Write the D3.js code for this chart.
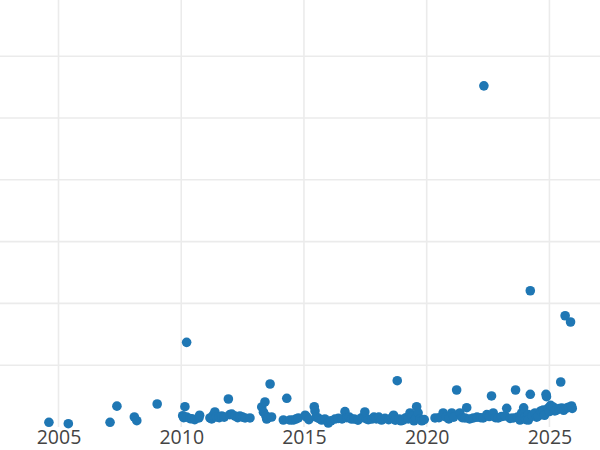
<!DOCTYPE html>
<html>
<head>
<meta charset="utf-8">
<script src="https://cdn.jsdelivr.net/npm/d3@7"></script>
<style>
  body { margin: 0; background: #fff; }
  #chart { width: 600px; height: 450px; }
</style>
</head>
<body>
<div id="chart"></div>
<script>
// values (x in decimal years)
var years = [
  2004.61, 2005.40, 2007.10, 2007.38, 2008.09, 2008.19, 2009.02,
  2010.06, 2010.10, 2010.15, 2010.22, 2010.22, 2010.36, 2010.43, 2010.55, 2010.72, 2010.75,
  2011.17, 2011.24, 2011.30, 2011.37, 2011.44, 2011.55, 2011.65, 2011.75, 2011.92, 2011.98,
  2012.06, 2012.19, 2012.30, 2012.39, 2012.50, 2012.60, 2012.80,
  2013.28, 2013.35, 2013.41, 2013.45, 2013.48, 2013.55, 2013.62, 2013.68,
  2014.16, 2014.30, 2014.43, 2014.56, 2014.67, 2014.77,
  2015.05, 2015.11, 2015.20, 2015.42, 2015.45, 2015.50, 2015.60, 2015.72, 2015.85, 2015.99,
  2016.10, 2016.26, 2016.40, 2016.55, 2016.67, 2016.75, 2016.85, 2016.94,
  2017.05, 2017.20, 2017.35, 2017.48, 2017.55, 2017.62, 2017.76, 2017.85, 2017.95,
  2018.05, 2018.16, 2018.30, 2018.45, 2018.57, 2018.65, 2018.72, 2018.80, 2018.88, 2018.95,
  2019.04, 2019.15, 2019.25, 2019.32, 2019.40, 2019.48, 2019.55, 2019.59, 2019.65, 2019.73, 2019.80, 2019.90,
  2020.34, 2020.50, 2020.67, 2020.80, 2020.90,
  2021.02, 2021.10, 2021.22, 2021.35, 2021.45, 2021.56, 2021.63, 2021.75, 2021.90,
  2022.05, 2022.20, 2022.30, 2022.33, 2022.45, 2022.55, 2022.64, 2022.71, 2022.80, 2022.91,
  2023.05, 2023.19, 2023.26, 2023.40, 2023.53, 2023.62, 2023.70, 2023.80, 2023.87, 2023.95,
  2024.00, 2024.05, 2024.14, 2024.14, 2024.22, 2024.22, 2024.30, 2024.41, 2024.48, 2024.54,
  2024.65, 2024.75, 2024.80, 2024.86, 2024.88, 2024.95,
  2025.00, 2025.05, 2025.15, 2025.22, 2025.29, 2025.40, 2025.46, 2025.50, 2025.58, 2025.64,
  2025.70, 2025.78, 2025.86, 2025.90, 2025.93
];
var values = [
  0.76, 0.53, 0.76, 3.37, 1.62, 1.02, 3.72,
  1.83, 1.5, 3.28, 13.7, 1.62, 1.34, 1.34, 1.2, 1.46, 1.9,
  1.46, 1.3, 1.9, 2.43, 1.62, 1.5, 1.78, 1.6, 4.53, 2.0,
  2.1, 1.78, 1.5, 1.78, 1.6, 1.46, 1.46,
  3.24, 2.4, 4.05, 1.8, 1.29, 1.5, 6.96, 1.62,
  1.13, 4.64, 1.13, 1.13, 1.29, 1.46,
  1.9, 1.62, 1.2, 3.28, 2.6, 1.62, 1.4, 1.13, 1.3, 0.65,
  1.0, 1.29, 1.4, 1.3, 2.48, 1.5, 1.6, 1.29,
  1.3, 1.1, 1.5, 2.43, 1.3, 1.2, 1.29, 1.6, 1.3,
  1.6, 1.13, 1.4, 1.2, 1.46, 1.9, 1.1, 7.49, 1.3, 1.0,
  1.13, 1.5, 1.3, 2.27, 1.8, 1.0, 1.4, 3.28, 2.3, 1.29, 1.0, 1.2,
  1.46, 1.5, 2.27, 1.6, 1.3,
  2.27, 1.6, 5.99, 2.27, 1.5, 1.46, 3.12, 1.3, 1.46,
  1.6, 1.5, 1.46, 55.2, 2.0, 1.7, 5.02, 2.27, 1.5, 1.46,
  1.7, 1.78, 3.03, 1.4, 1.46, 5.99, 1.6, 1.13, 2.27, 3.1,
  1.5, 1.2, 2.0, 1.13, 22.05, 5.29, 1.8, 2.27, 1.6, 1.78,
  2.6, 2.75, 1.9, 5.29, 4.9, 3.07,
  2.5, 3.5, 3.24, 2.6, 2.75, 3.0, 7.28, 3.07, 2.7, 18.0,
  3.07, 3.2, 16.99, 3.4, 3.0
];
var xTicks = [2005, 2010, 2015, 2020, 2025];
var yTicks = [10, 20, 30, 40, 50, 60, 70];

var width = 600, height = 450;
var plotBottom = 427;

var svg = d3.select("#chart")
  .append("svg")
  .attr("width", width)
  .attr("height", height);

var x = d3.scaleLinear()
  .domain([2002.617, 2027.06])
  .range([0, width]);

var y = d3.scaleLinear()
  .domain([0, 60])
  .range([plotBottom, 56.2]);

// grid
svg.append("g").attr("class", "ygrid")
  .selectAll("line")
  .data(yTicks)
  .enter().append("line")
  .attr("x1", 0)
  .attr("x2", width)
  .attr("y1", function(d) { return y(d); })
  .attr("y2", function(d) { return y(d); })
  .attr("stroke", "#ebebeb")
  .attr("stroke-width", 1.6);

svg.append("g").attr("class", "xgrid")
  .selectAll("line")
  .data(xTicks)
  .enter().append("line")
  .attr("x1", function(d) { return x(d); })
  .attr("x2", function(d) { return x(d); })
  .attr("y1", 0)
  .attr("y2", plotBottom)
  .attr("stroke", "#ebebeb")
  .attr("stroke-width", 1.6);

// x axis labels only, no domain line or ticks
// (pulled up a little so the text box stays inside the frame)
var xAxis = svg.append("g")
  .attr("transform", "translate(0," + plotBottom + ")")
  .call(d3.axisBottom(x).tickValues(xTicks).tickFormat(d3.format("d")).tickSize(0).tickPadding(3.6));

xAxis.select(".domain").remove();
xAxis.selectAll("text")
  .attr("font-family", "'Open Sans', sans-serif")
  .attr("font-size", 19.5)
  .attr("fill", "#444")
  .attr("dy", "0.71em");

// points
svg.append("g").attr("class", "points")
  .selectAll("circle")
  .data(years)
  .enter().append("circle")
  .attr("cx", function(d) { return x(d); })
  .attr("cy", function(d, i) { return y(values[i]); })
  .attr("r", 4.8)
  .attr("fill", "#1f77b4");
</script>
</body>
</html>
